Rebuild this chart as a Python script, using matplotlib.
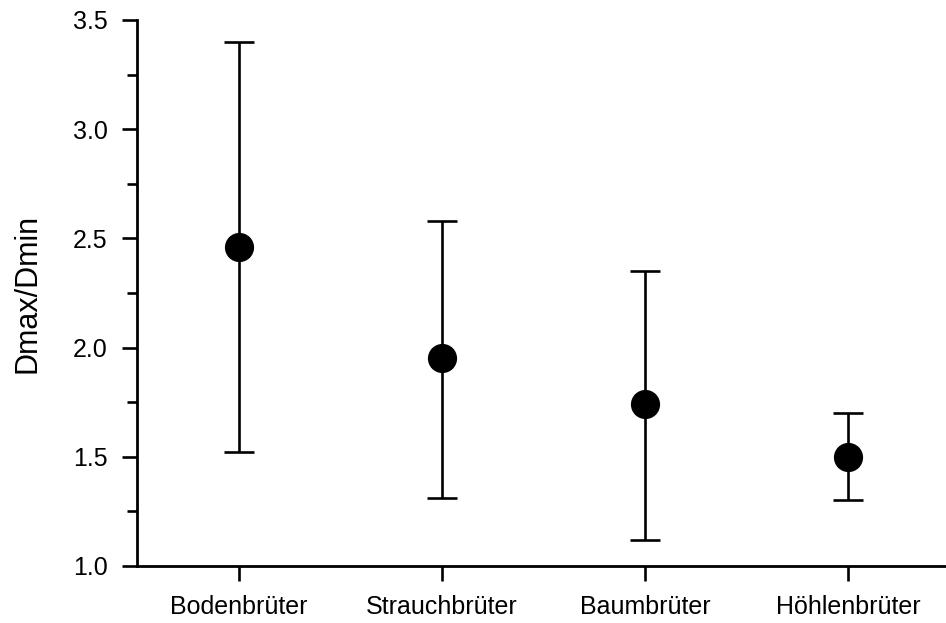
import numpy as np
import matplotlib.pyplot as plt
from matplotlib.ticker import MultipleLocator

plt.rcParams['font.family'] = ['Liberation Sans', 'DejaVu Sans']

# nest types and Dmax/Dmin ratio (mean with range)
groups = ['Bodenbrüter', 'Strauchbrüter', 'Baumbrüter', 'Höhlenbrüter']
ratio_mean = [2.46, 1.95, 1.74, 1.50]
ratio_low = [1.52, 1.31, 1.12, 1.30]
ratio_high = [3.40, 2.58, 2.35, 1.70]

x = np.arange(len(groups))
mean = np.array(ratio_mean)
err = np.vstack([mean - np.array(ratio_low), np.array(ratio_high) - mean])

fig = plt.figure(figsize=(9.46, 6.23), dpi=100)
ax = fig.add_axes([0.1448, 0.0915, 0.8552, 0.8765])

ax.errorbar(x, mean, yerr=err, fmt='o', color='black', ecolor='black',
            markersize=20, elinewidth=1.9, capsize=11, capthick=1.9)

ax.set_xlim(-0.5, 3.48)
ax.set_ylim(1.0, 3.5)
ax.set_xticks(x)
ax.set_xticklabels(groups, fontsize=18)
ax.yaxis.set_major_locator(MultipleLocator(0.5))
ax.yaxis.set_minor_locator(MultipleLocator(0.25))
ax.yaxis.set_major_formatter('{x:.1f}')
ax.tick_params(axis='y', labelsize=18, length=11, width=1.9, pad=10)
ax.tick_params(axis='y', which='minor', length=7, width=1.9)
ax.tick_params(axis='x', length=11, width=1.9, pad=10)

ax.set_ylabel('Dmax/Dmin', fontsize=22, labelpad=22)

for side in ['top', 'right']:
    ax.spines[side].set_visible(False)
for side in ['left', 'bottom']:
    ax.spines[side].set_linewidth(2.0)

fig.savefig('out.png', dpi=100)
